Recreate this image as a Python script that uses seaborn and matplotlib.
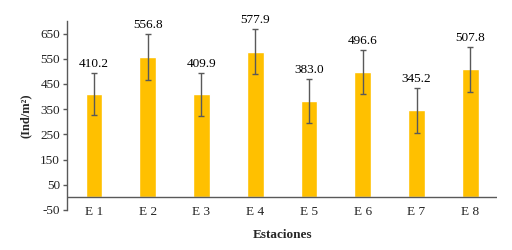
import matplotlib
matplotlib.use("Agg")
import matplotlib.pyplot as plt
import seaborn as sns
import pandas as pd
import numpy as np

estaciones = ["E 1", "E 2", "E 3", "E 4", "E 5", "E 6", "E 7", "E 8"]
densidad = [410.2, 556.8, 409.9, 577.9, 383.0, 496.6, 345.2, 507.8]
error = [83, 90, 85, 90, 87, 88, 90, 89]
yticks = [-50, 50, 150, 250, 350, 450, 550, 650]

sns.set_theme(style="white")
plt.rcParams['font.family'] = ['Liberation Serif', 'DejaVu Serif']

df = pd.DataFrame({"Estaciones": estaciones, "Densidad": densidad})

fig = plt.figure(figsize=(5.12, 2.5), dpi=100)
ax = fig.add_axes([0.131, 0.16, 0.84, 0.756])

sns.barplot(data=df, x="Estaciones", y="Densidad", color="#FFC000",
            saturation=1, width=0.31, ax=ax, errorbar=None)
ax.errorbar(np.arange(len(estaciones)), densidad, yerr=error, fmt="none",
            ecolor="#595959", elinewidth=1, capsize=2.5, capthick=1)

for i, v in enumerate(densidad):
    ax.text(i, v + error[i] + 12, f"{v:.1f}", ha="center", va="bottom",
            fontsize=9.5, color="black")

ax.set_ylim(-50, 700)
ax.set_xlim(-0.5, len(estaciones) - 0.5)
ax.set_yticks(yticks)
ax.set_yticklabels([str(t) for t in yticks], fontsize=9.5)
ax.tick_params(axis="y", which="both", left=True, length=3, width=1,
               color="#595959", pad=2, labelcolor="#222222")
ax.tick_params(axis="x", bottom=False, labelsize=9.5, pad=-9, labelcolor="#222222")

ax.axhline(0, color="#595959", linewidth=1)
for s in ["top", "right", "bottom"]:
    ax.spines[s].set_visible(False)
ax.spines["left"].set_color("#595959")
ax.spines["left"].set_linewidth(1)

ax.set_ylabel("(Ind/m²)", fontsize=9, fontweight="bold", labelpad=6)
ax.set_xlabel("Estaciones", fontsize=9.5, fontweight="bold", labelpad=8)

fig.savefig("out.png", dpi=100)
